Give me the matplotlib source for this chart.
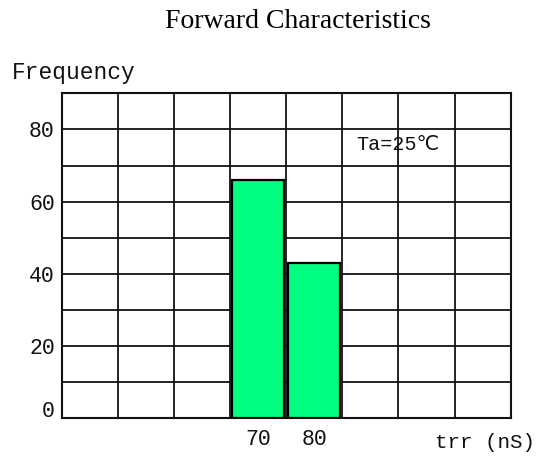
import matplotlib
matplotlib.use("Agg")
import matplotlib.pyplot as plt
from matplotlib.transforms import ScaledTranslation

# data
trr_values = [70, 80]
frequency = [66, 43]
y_labels = [0, 20, 40, 60, 80]
x_labels = ["70", "80"]

mono = ["Liberation Mono", "DejaVu Sans Mono", "DejaVu Sans"]
bar_color = "#00ff80"

fig = plt.figure(figsize=(5.38, 4.57), dpi=100)
ax = fig.add_axes([0.1147, 0.0847, 0.8346, 0.7111])

ax.bar(trr_values, frequency, width=9.3, color=bar_color,
       edgecolor="black", linewidth=1.6, zorder=3)

ax.set_xlim(35, 115)
ax.set_ylim(0, 90)

# grid lines every 10, labels on majors only
ax.set_xticks(range(45, 115, 10), minor=True)
ax.set_yticks(range(10, 90, 10), minor=True)
ax.set_xticks(trr_values)
ax.set_xticklabels(x_labels)
ax.set_yticks(y_labels)
ax.grid(which="minor", color="#111111", linewidth=1.3)
ax.grid(which="major", axis="y", color="#111111", linewidth=1.3)
ax.grid(which="major", axis="x", visible=False)
ax.tick_params(which="both", length=0)
ax.tick_params(axis="x", pad=8)
ax.tick_params(axis="y", pad=5)
for lab in ax.get_xticklabels() + ax.get_yticklabels():
    lab.set_fontfamily(mono)
    lab.set_fontsize(15.5)
    lab.set_color("#111111")

# the 0 label sits a bit higher in the original
zero = ax.get_yticklabels()[0]
zero.set_transform(zero.get_transform() + ScaledTranslation(0, 9 / 100, fig.dpi_scale_trans))

for sp in ax.spines.values():
    sp.set_linewidth(1.5)
    sp.set_color("#111111")
ax.set_axisbelow(True)

fig.text(298 / 538, 1 - 22 / 457, "Forward Characteristics", ha="center", va="center",
         family=["Liberation Serif", "DejaVu Serif"], fontsize=20)
fig.text(12 / 538, 1 - 72 / 457, "Frequency", ha="left", va="center",
         family=mono, fontsize=16.5, color="#111111")
fig.text(535 / 538, 1 - 443 / 457, "trr (nS)", ha="right", va="center",
         family=mono, fontsize=15, color="#111111")
fig.text(356 / 538, 1 - 145 / 457, "Ta=25\u2103", ha="left", va="center",
         family=mono, fontsize=14.5, color="#111111")

fig.savefig("out.png", dpi=100)
